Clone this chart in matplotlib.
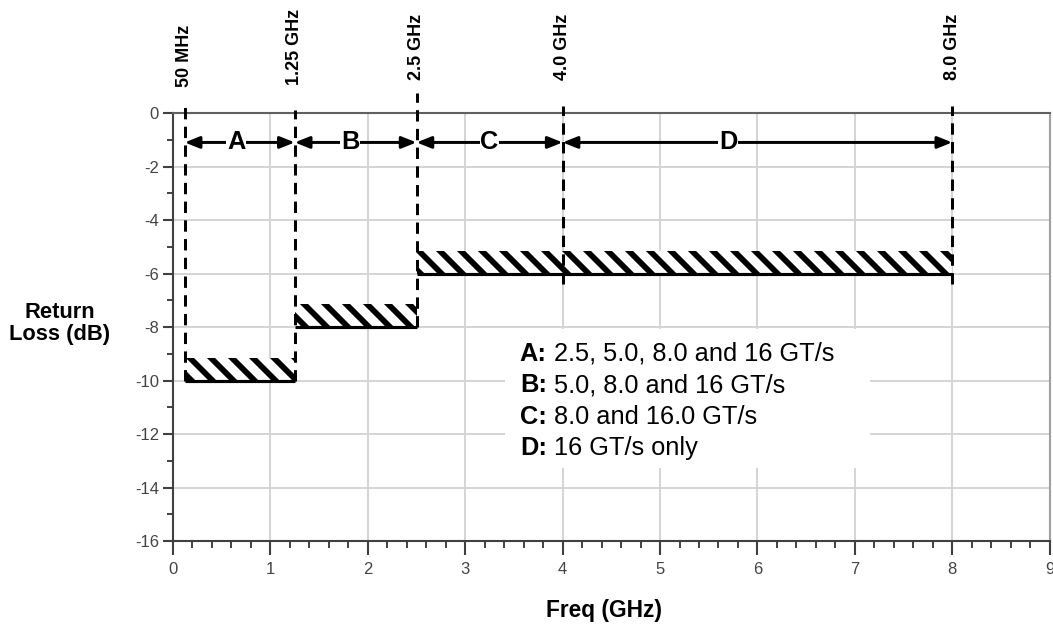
import matplotlib
matplotlib.use("Agg")
import matplotlib.pyplot as plt
from matplotlib.patches import Rectangle

plt.rcParams['font.family'] = ['Liberation Sans', 'DejaVu Sans']
plt.rcParams['lines.scale_dashes'] = False
plt.rcParams['hatch.linewidth'] = 3.3
plt.rcParams['axes.unicode_minus'] = False

# band edges (GHz) and their labels above the plot
edge_freq = [0.12, 1.25, 2.5, 4.0, 8.0]
edge_labels = ["50 MHz", "1.25 GHz", "2.5 GHz", "4.0 GHz", "8.0 GHz"]
edge_top = [0.4, 0.1, 0.75, 0.25, 0.25]
edge_bottom = [-10, -10, -8, -6.4, -6.4]
label_base = [0.97, 1.05, 1.23, 1.23, 1.23]

# return loss limit steps
limit_start = [0.12, 1.25, 2.5]
limit_end = [1.25, 2.5, 8.0]
limit_db = [-10, -8, -6]
hatch_height = 0.85

# band letters and arrows
bands = ["A", "B", "C", "D"]
band_start = [0.12, 1.25, 2.5, 4.0]
band_end = [1.25, 2.5, 4.0, 8.0]
band_letter_x = [0.65, 1.82, 3.25, 5.7]
arrow_db = -1.1

# key text
key_letters = ["A:", "B:", "C:", "D:"]
key_text = [" 2.5, 5.0, 8.0 and 16 GT/s", " 5.0, 8.0 and 16 GT/s", " 8.0 and 16.0 GT/s", " 16 GT/s only"]
key_db = [-9.0, -10.17, -11.35, -12.52]
key_x = 3.56

dpi = 126
fig = plt.figure(figsize=(1053 / dpi, 624 / dpi), dpi=dpi)
ax = fig.add_axes([0.1643, 0.133, 0.8325, 0.6859])

ax.set_xlim(0, 9)
ax.set_ylim(-16, 0)
ax.set_xticks(range(0, 10))
ax.set_xticks([i * 0.2 for i in range(46)], minor=True)
ax.set_yticks(range(-16, 1, 2))
ax.set_yticks(range(-15, 0, 2), minor=True)
ax.grid(True, which='major', color='#d4d4d4', lw=1.1)
ax.set_axisbelow(True)

ax.tick_params(axis='x', which='major', direction='out', length=8, width=1.2, color='#404040',
               labelsize=9.5, labelcolor='#444444', pad=4)
ax.tick_params(axis='x', which='minor', direction='out', length=4, width=1.1, color='#404040')
ax.tick_params(axis='y', which='major', direction='out', length=6, width=1.2, color='#404040',
               labelsize=9.5, labelcolor='#444444', pad=2)
ax.tick_params(axis='y', which='minor', direction='out', length=3.5, width=1.1, color='#404040')
ax.spines['left'].set_color('#404040')
ax.spines['bottom'].set_color('#404040')
ax.spines['top'].set_color('#606060')
ax.spines['right'].set_color('#a0a0a0')
for s in ax.spines.values():
    s.set_linewidth(1.2)

# hatched limit bands
for x0, x1, db in zip(limit_start, limit_end, limit_db):
    ax.fill_between([x0, x1], db, db + hatch_height, facecolor='white', edgecolor='black',
                    hatch='\\\\', linewidth=0, zorder=3)
    ax.plot([x0, x1], [db, db], color='black', lw=1.8, solid_capstyle='butt', zorder=4)

# dashed band edges
for x, top, bot, lab, base in zip(edge_freq, edge_top, edge_bottom, edge_labels, label_base):
    ax.plot([x, x], [bot, top], color='black', lw=1.7, dashes=(6.5, 4.2), clip_on=False, zorder=5)
    ax.text(x, base, lab, rotation=90, ha='center', va='bottom', fontsize=10.3, fontweight='bold',
            clip_on=False)

# band arrows with letters
for name, x0, x1, lx in zip(bands, band_start, band_end, band_letter_x):
    ax.annotate('', xy=(x1, arrow_db), xytext=(x0, arrow_db),
                arrowprops=dict(arrowstyle='<|-|>,head_length=0.5,head_width=0.2', lw=1.7,
                                color='black', mutation_scale=14, shrinkA=0, shrinkB=0),
                zorder=6)
    ax.text(lx, arrow_db, name, ha='center', va='center', fontsize=14.5, fontweight='bold',
            bbox=dict(facecolor='white', edgecolor='none', pad=0.5), zorder=7)

# key, on a white patch that hides the grid
ax.add_patch(Rectangle((3.41, -13.27), 3.75, 5.2, facecolor='white', edgecolor='none', zorder=1.5))
for lt, tx, db in zip(key_letters, key_text, key_db):
    t = ax.text(key_x, db, lt, ha='left', va='center', fontsize=14.5, fontweight='bold', zorder=8)
    ax.annotate(tx, xy=(1, 0.5), xycoords=t, ha='left', va='center', fontsize=14.5, zorder=8)

fig.text(0.574, 0.021, "Freq (GHz)", ha='center', va='center', fontsize=13, fontweight='bold')
fig.text(0.057, 0.4816, "Return\nLoss (dB)", ha='center', va='center', fontsize=12.5,
         fontweight='bold', linespacing=1.1)

fig.savefig("out.png", dpi=dpi)
